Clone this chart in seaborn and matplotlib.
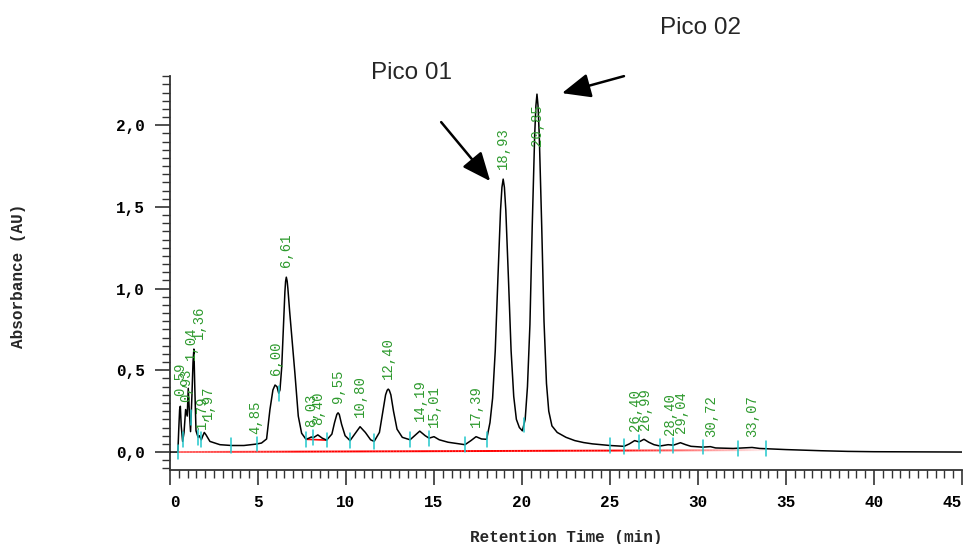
import numpy as np
import pandas as pd
import matplotlib
matplotlib.use('Agg')
import matplotlib.pyplot as plt
import matplotlib.transforms as mtransforms
from matplotlib.collections import LineCollection
from matplotlib.ticker import MultipleLocator, FuncFormatter
import seaborn as sns

# chromatogram trace (min, AU)
trace_time = [0.00, 0.45, 0.50, 0.55, 0.59, 0.64, 0.72, 0.80, 0.89, 0.98,
              1.04, 1.10, 1.17, 1.25, 1.31, 1.36, 1.41, 1.48, 1.60, 1.67,
              1.78, 1.87, 1.95, 2.05, 2.27, 2.84, 3.50, 4.20, 4.85, 5.20,
              5.49, 5.68, 5.85, 5.97, 6.08, 6.18, 6.25, 6.35, 6.45, 6.53,
              6.57, 6.61, 6.66, 6.70, 6.80, 6.91, 7.10, 7.29, 7.48, 7.73,
              7.90, 8.03, 8.15, 8.40, 8.65, 8.90, 9.20, 9.35, 9.48, 9.55,
              9.62, 9.75, 9.95, 10.23, 10.50, 10.80, 11.10, 11.40, 11.60, 11.90,
              12.10, 12.25, 12.34, 12.40, 12.46, 12.55, 12.70, 12.90, 13.20, 13.64,
              13.90, 14.19, 14.50, 14.72, 15.00, 15.30, 15.80, 16.30, 16.76, 17.10,
              17.39, 17.70, 17.99, 18.18, 18.33, 18.48, 18.63, 18.78, 18.86, 18.93,
              19.00, 19.08, 19.23, 19.38, 19.53, 19.68, 19.85, 20.02, 20.18, 20.31,
              20.45, 20.58, 20.72, 20.79, 20.85, 20.91, 20.98, 21.12, 21.25, 21.39,
              21.52, 21.70, 22.00, 22.50, 23.00, 23.50, 24.00, 25.00, 25.80, 26.10,
              26.40, 26.65, 26.93, 27.20, 27.50, 27.84, 28.30, 28.60, 29.00, 29.30,
              29.60, 30.27, 30.70, 31.00, 32.00, 33.07, 33.50, 35.00, 37.00, 38.50,
              40.00, 45.00]
trace_abs = [0.000, 0.000, 0.140, 0.260, 0.280, 0.160, 0.065, 0.120, 0.260, 0.220,
             0.390, 0.250, 0.125, 0.350, 0.550, 0.630, 0.400, 0.130, 0.090, 0.100,
             0.075, 0.100, 0.120, 0.105, 0.065, 0.045, 0.040, 0.040, 0.048, 0.055,
             0.080, 0.260, 0.380, 0.410, 0.400, 0.360, 0.380, 0.520, 0.780, 0.980,
             1.045, 1.070, 1.045, 1.000, 0.860, 0.720, 0.480, 0.220, 0.115, 0.078,
             0.085, 0.092, 0.088, 0.105, 0.085, 0.073, 0.110, 0.180, 0.230, 0.240,
             0.230, 0.170, 0.100, 0.070, 0.110, 0.155, 0.120, 0.075, 0.065, 0.120,
             0.250, 0.350, 0.378, 0.385, 0.378, 0.350, 0.250, 0.140, 0.090, 0.075,
             0.100, 0.128, 0.100, 0.085, 0.094, 0.075, 0.060, 0.052, 0.045, 0.070,
             0.094, 0.080, 0.078, 0.180, 0.330, 0.620, 1.060, 1.480, 1.620, 1.670,
             1.620, 1.480, 1.060, 0.620, 0.340, 0.200, 0.150, 0.130, 0.200, 0.400,
             0.780, 1.380, 1.940, 2.120, 2.190, 2.120, 1.940, 1.380, 0.800, 0.420,
             0.250, 0.160, 0.120, 0.090, 0.070, 0.058, 0.050, 0.040, 0.035, 0.050,
             0.070, 0.062, 0.078, 0.060, 0.045, 0.037, 0.045, 0.042, 0.057, 0.045,
             0.035, 0.030, 0.033, 0.025, 0.022, 0.028, 0.022, 0.015, 0.008, 0.004,
             0.002, 0.000]

# integration baseline (red) and the local one under 8,03 / 8,40
baseline_time = [0.45, 33.84]
baseline_abs = [0.0, 0.012]
local_base_time = [7.73, 8.90]
local_base_abs = [0.078, 0.073]

# peak start / end marks (cyan)
mark_time = [0.45, 0.74, 1.20, 1.60, 1.78, 3.45, 4.95, 6.18, 7.73, 8.15,
             8.90, 10.23, 11.60, 13.64, 14.72, 16.76, 17.99, 20.10, 25.00, 25.80,
             26.65, 27.84, 28.60, 30.27, 32.26, 33.84]

# retention times printed above the peaks
peak_labels = ['0,59', '0,93', '1,04', '1,36', '1,79', '1,97', '4,85', '6,00',
               '6,61', '8,03', '8,40', '9,55', '10,80', '12,40', '14,19',
               '15,01', '17,39', '18,93', '20,85', '26,40', '26,99', '28,40',
               '29,04', '30,72', '33,07']

pico_names = ['Pico 01', 'Pico 02']
pico_time = [18.93, 20.85]

GREEN = '#2e9a2e'
CYAN = '#22c8cc'

sns.set_theme(style='ticks')
plt.rcParams['font.family'] = ['Liberation Mono', 'DejaVu Sans']
plt.rcParams['font.weight'] = 'bold'

fig, ax = plt.subplots(figsize=(9.64, 5.44), dpi=100)
fig.subplots_adjust(left=0.1763, right=0.998, bottom=0.136, top=0.860)

# red baseline, fading at both ends
bt = np.linspace(baseline_time[0], baseline_time[1], 200)
ba = np.interp(bt, baseline_time, baseline_abs)
pts = np.column_stack([bt, ba]).reshape(-1, 1, 2)
segs = np.concatenate([pts[:-1], pts[1:]], axis=1)
alpha = np.interp(bt[:-1], [0.45, 8, 25, 33.84], [0.6, 1.0, 1.0, 0.05])
colors = np.zeros((len(alpha), 4))
colors[:, 0] = 1.0
colors[:, 3] = alpha
ax.add_collection(LineCollection(segs, colors=colors, linewidths=1.4, zorder=2))
ax.plot(local_base_time, local_base_abs, color='red', lw=1.2, zorder=2)

df = pd.DataFrame({'Time': trace_time, 'Abs': trace_abs})
sns.lineplot(x='Time', y='Abs', data=df, color='black', lw=1.1, ax=ax,
             zorder=3)

# cyan integration marks
mark_y = np.interp(mark_time, trace_time, trace_abs)
for t, y in zip(mark_time, mark_y):
    ax.plot([t, t], [y - 0.045, y + 0.045], color=CYAN, lw=1.1, zorder=4)

# peak labels (some nudged, like the software does for crowded ones)
label_nudge = {'1,04': (3, 18), '1,36': (5, 0), '1,97': (3, 4)}
for lab in peak_labels:
    t = float(lab.replace(',', '.'))
    y = min(np.interp(t, trace_time, trace_abs), 1.81)
    dx, dy = label_nudge.get(lab, (0, 0))
    ax.annotate(lab, xy=(t, y), xytext=(dx, 10 + dy),
                textcoords='offset pixels', rotation=90, ha='center',
                va='bottom', color=GREEN, fontsize=10, fontweight='normal',
                family=['Liberation Mono', 'DejaVu Sans'],
                annotation_clip=False)

# arrows pointing at the two main peaks
pico_y = np.interp(pico_time, trace_time, trace_abs)
head_off = [(-13, -2), (25, 1)]
tail_off = [(-49, 59), (62, 17)]
text_off = [(-92, 106), (164, 66)]
for name, t, y, h, tl, tx in zip(pico_names, pico_time, pico_y,
                                 head_off, tail_off, text_off):
    head = mtransforms.offset_copy(ax.transData, fig=fig, x=h[0], y=h[1],
                                   units='dots')
    ax.annotate('', xy=(t, y), xycoords=head, xytext=tl,
                textcoords='offset pixels', annotation_clip=False,
                arrowprops=dict(arrowstyle='-|>,head_length=0.7,head_width=0.3',
                                mutation_scale=25, lw=1.8, color='black',
                                shrinkA=0, shrinkB=0))
    ax.annotate(name, xy=(t, y), xytext=tx, textcoords='offset pixels',
                ha='center', va='center', fontsize=17.5, fontweight='normal',
                family=['Liberation Sans', 'DejaVu Sans'],
                annotation_clip=False)

ax.set_xlim(0, 45)
ax.set_ylim(-0.11, 2.30)
ax.xaxis.set_major_locator(MultipleLocator(5))
ax.xaxis.set_minor_locator(MultipleLocator(0.5))
ax.yaxis.set_major_locator(MultipleLocator(0.5))
ax.yaxis.set_minor_locator(MultipleLocator(0.05))
ax.xaxis.set_major_formatter(FuncFormatter(lambda v, p: f'{v:.0f}'))
ax.yaxis.set_major_formatter(
    FuncFormatter(lambda v, p: f'{v:.1f}'.replace('.', ',')))
ax.tick_params(which='major', length=11, width=1.2, color='#333333',
               labelsize=11.5, pad=7, labelcolor='black')
ax.tick_params(which='minor', length=5.5, width=1.0, color='#333333')

sns.despine(ax=ax)
for side in ['left', 'bottom']:
    ax.spines[side].set_color('#333333')
    ax.spines[side].set_linewidth(1.3)

ax.set_xlabel('Retention Time (min)', fontsize=11.5, fontweight='bold')
ax.set_ylabel('Absorbance (AU)', fontsize=11.5, fontweight='bold')
ax.xaxis.set_label_coords(0.5, -0.152)
ax.yaxis.set_label_coords(-0.182, 0.492)

# keep the end labels inside the figure, as the reference does
fig.canvas.draw()
for lab in ax.get_xticklabels():
    if lab.get_text() == '0':
        lab.set_ha('left')
    elif lab.get_text() == '45':
        lab.set_ha('right')

fig.savefig('out.png', dpi=100)
